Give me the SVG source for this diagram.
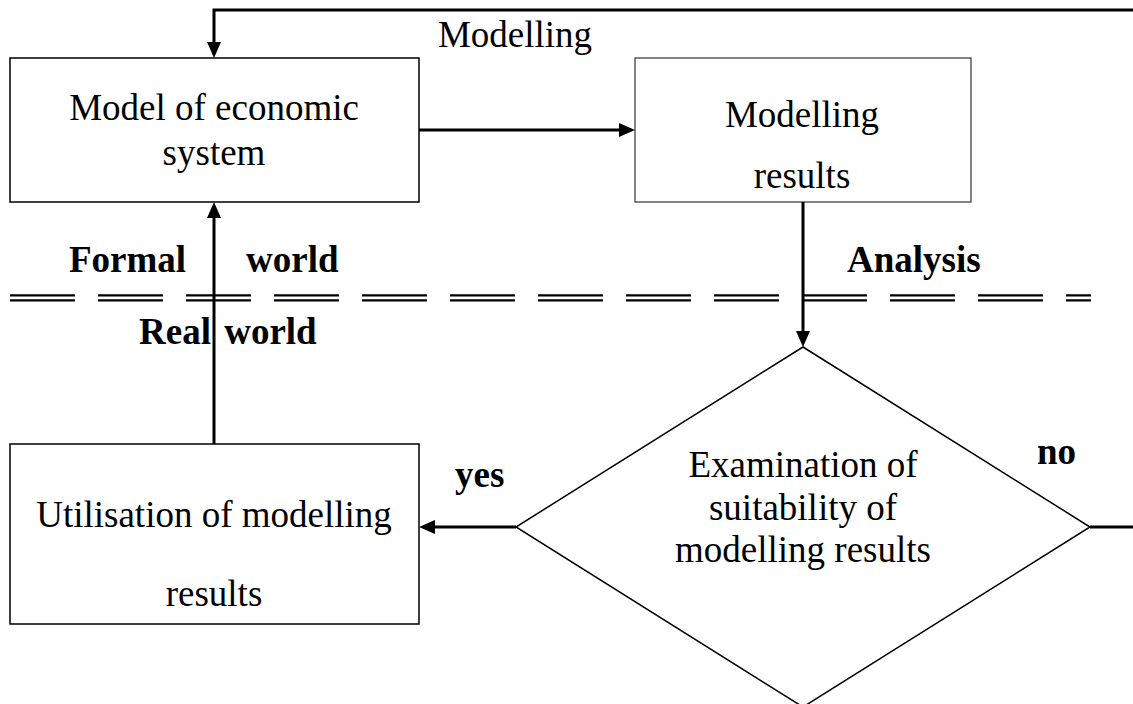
<svg xmlns="http://www.w3.org/2000/svg" width="1133" height="704" viewBox="0 0 1133 704">
<style>
.box{fill:#fff;stroke:#000;stroke-width:1.5}
.t{font-family:"Liberation Serif","Times New Roman",serif;font-size:37px;fill:#000}
.b{font-weight:bold}
.m{text-anchor:middle}
.c{fill:none;stroke:#000;stroke-width:3}
.d{fill:none;stroke:#000;stroke-width:2.4;stroke-dasharray:65 23}
</style>
<defs>
<marker id="ah" viewBox="0 0 16 14" refX="2" refY="7" markerWidth="16" markerHeight="14" markerUnits="userSpaceOnUse" orient="auto">
<path d="M0,0 L16,7 L0,14 Z" fill="#000"/>
</marker>
</defs>
<rect width="1133" height="704" fill="#fff"/>
<g id="divider">
<line class="d" x1="10" y1="295.4" x2="1091" y2="295.4"/>
<line class="d" x1="10" y1="300.4" x2="1091" y2="300.4"/>
</g>
<g id="model">
<rect class="box" x="10" y="58" width="409" height="144"/>
<text class="t m" x="214" y="120">Model of economic</text>
<text class="t m" x="214" y="165">system</text>
</g>
<g id="results">
<rect class="box" x="635" y="58" width="336" height="144" style="stroke-width:1.2;stroke:#333"/>
<text class="t m" x="802" y="127">Modelling</text>
<text class="t m" x="802" y="188">results</text>
</g>
<g id="utilisation">
<rect class="box" x="10" y="444" width="409" height="180"/>
<text class="t m" x="214" y="527">Utilisation of modelling</text>
<text class="t m" x="214" y="606">results</text>
</g>
<g id="examination">
<polygon class="box" points="803,347 1090,527 803,707 516,527"/>
<text class="t m" x="803" y="477">Examination of</text>
<text class="t m" x="803" y="520">suitability of</text>
<text class="t m" x="803" y="562">modelling results</text>
</g>
<g id="connectors">
<path class="c" d="M1140,10 H214 V44" marker-end="url(#ah)"/>
<path class="c" d="M419,130 H621" marker-end="url(#ah)"/>
<path class="c" d="M803,202 V333" marker-end="url(#ah)"/>
<path class="c" d="M214,444 V216" marker-end="url(#ah)"/>
<path class="c" d="M516,527 H433" marker-end="url(#ah)"/>
<path class="c" d="M1090,527 H1140"/>
</g>
<g id="labels">
<text class="t m" x="515" y="47">Modelling</text>
<text class="t b" x="69" y="272">Formal</text>
<text class="t b" x="246" y="272">world</text>
<text class="t b" x="847" y="272">Analysis</text>
<text class="t b" x="139" y="344" style="word-spacing:4px">Real world</text>
<text class="t b" x="455" y="487">yes</text>
<text class="t b" x="1037" y="464">no</text>
</g>
</svg>
